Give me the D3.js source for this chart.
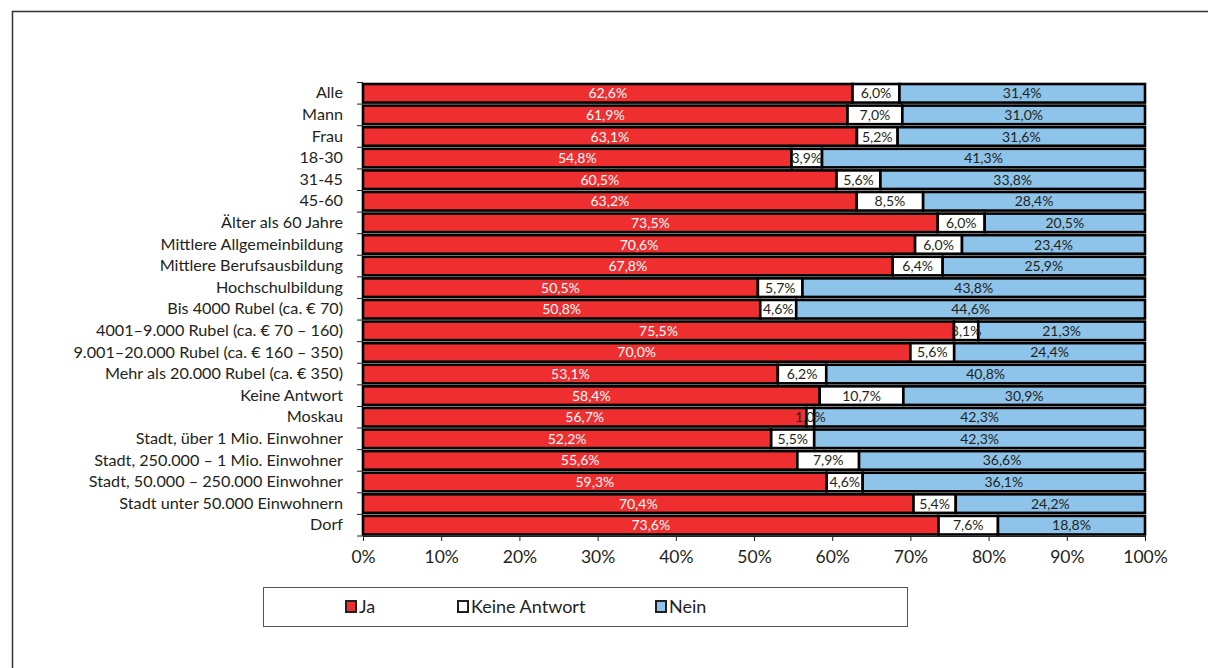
<!DOCTYPE html>
<html><head><meta charset="utf-8">
<script src="https://cdn.jsdelivr.net/npm/d3@7"></script>
<style>
html,body{margin:0;padding:0;background:#fff;}
svg{display:block;font-family:Lato,"Open Sans",sans-serif;}
</style></head><body>
<svg id="c" width="1208" height="668"></svg>
<script>
const categories = ["Alle","Mann","Frau","18-30","31-45","45-60","Älter als 60 Jahre","Mittlere Allgemeinbildung","Mittlere Berufsausbildung","Hochschulbildung","Bis 4000 Rubel (ca. € 70)","4001–9.000 Rubel (ca. € 70 – 160)","9.001–20.000 Rubel (ca. € 160 – 350)","Mehr als 20.000 Rubel (ca. € 350)","Keine Antwort","Moskau","Stadt, über 1 Mio. Einwohner","Stadt, 250.000 – 1 Mio. Einwohner","Stadt, 50.000 – 250.000 Einwohner","Stadt unter 50.000 Einwohnern","Dorf"];
const ja = [62.6,61.9,63.1,54.8,60.5,63.2,73.5,70.6,67.8,50.5,50.8,75.5,70.0,53.1,58.4,56.7,52.2,55.6,59.3,70.4,73.6];
const keine = [6.0,7.0,5.2,3.9,5.6,8.5,6.0,6.0,6.4,5.7,4.6,3.1,5.6,6.2,10.7,1.0,5.5,7.9,4.6,5.4,7.6];
const nein = [31.4,31.0,31.6,41.3,33.8,28.4,20.5,23.4,25.9,43.8,44.6,21.3,24.4,40.8,30.9,42.3,42.3,36.6,36.1,24.2,18.8];
const seriesNames = ["Ja","Keine Antwort","Nein"];
const seriesKeys = ["ja","keine","nein"];
const colors = ["#ee2e2f","#ffffff","#8ec4ea"];
const textColors = ["#ffffff","#231f20","#231f20"];
const xTicks = [0,0.1,0.2,0.3,0.4,0.5,0.6,0.7,0.8,0.9,1.0];

const rows = categories.map((c,i)=>({cat:c, ja:ja[i], keine:keine[i], nein:nein[i]}));
const svg = d3.select("#c");
const fmt = v => d3.format(".1f")(v).replace(".",",") + "%";

// frame
svg.append("path").attr("d","M12.5,668 L12.5,11.5 L1208,11.5").attr("fill","none").attr("stroke","#333").attr("stroke-width",1.5);

const x = d3.scaleLinear().domain([0,1]).range([363,1145]);
const y = d3.scaleBand().domain(categories).range([82.5,536]).paddingInner(0.14).paddingOuter(0.07);

const stack = d3.stack().keys(seriesKeys).offset(d3.stackOffsetExpand);
const stacked = stack(rows);

const g = svg.append("g");
stacked.forEach((s,si)=>{
  g.append("g").selectAll("rect").data(s).join("rect")
    .attr("x",d=>x(d[0])).attr("width",d=>x(d[1])-x(d[0]))
    .attr("y",d=>y(d.data.cat)).attr("height",y.bandwidth())
    .attr("fill",colors[si]).attr("stroke","#000").attr("stroke-width",2.6);
});
stacked.forEach((s,si)=>{
  g.append("g").selectAll("text").data(s).join("text")
    .attr("x",d=>(x(d[0])+x(d[1]))/2).attr("y",d=>y(d.data.cat)+y.bandwidth()/2)
    .attr("dy","0.36em").attr("text-anchor","middle")
    .attr("font-size",14).attr("fill",textColors[si])
    .text(d=>fmt(d.data[seriesKeys[si]]));
});

// y axis
const yAxis = d3.axisLeft(y).tickSize(0).tickPadding(20);
const ya = svg.append("g").attr("transform","translate(363,0)").call(yAxis);
ya.select(".domain").remove();
ya.selectAll("text").attr("font-size",16.2).attr("fill","#231f20").attr("font-family","Lato,sans-serif");
const bounds = categories.map(c=>y(c)-y.step()*y.paddingInner()/2).concat([y(categories[categories.length-1])+y.bandwidth()+y.step()*y.paddingInner()/2]);
svg.append("g").selectAll("line").data(bounds).join("line")
  .attr("x1",357).attr("x2",363).attr("y1",d=>d).attr("y2",d=>d).attr("stroke","#231f20").attr("stroke-width",1);

// x axis
const xAxis = d3.axisBottom(x).tickValues(xTicks).tickFormat(d3.format(".0%")).tickSize(5).tickPadding(10);
const xa = svg.append("g").attr("transform","translate(0,536)").call(xAxis);
xa.select(".domain").attr("stroke","#231f20");
xa.selectAll(".tick line").attr("stroke","#231f20");
xa.selectAll("text").attr("font-size",17.5).attr("fill","#231f20").attr("font-family","Lato,sans-serif");

// legend
const lg = svg.append("g");
lg.append("rect").attr("x",263.5).attr("y",587.5).attr("width",644).attr("height",39).attr("fill","#fff").attr("stroke","#555").attr("stroke-width",1);
const legX = [346,458,656];
seriesNames.forEach((n,i)=>{
  lg.append("rect").attr("x",legX[i]).attr("y",601).attr("width",10).attr("height",11).attr("fill",colors[i]).attr("stroke","#231f20").attr("stroke-width",2);
  lg.append("text").attr("x",legX[i]+13).attr("y",606.5).attr("dy","0.36em").attr("font-size",18).attr("fill","#231f20").text(n);
});
</script></body></html>
